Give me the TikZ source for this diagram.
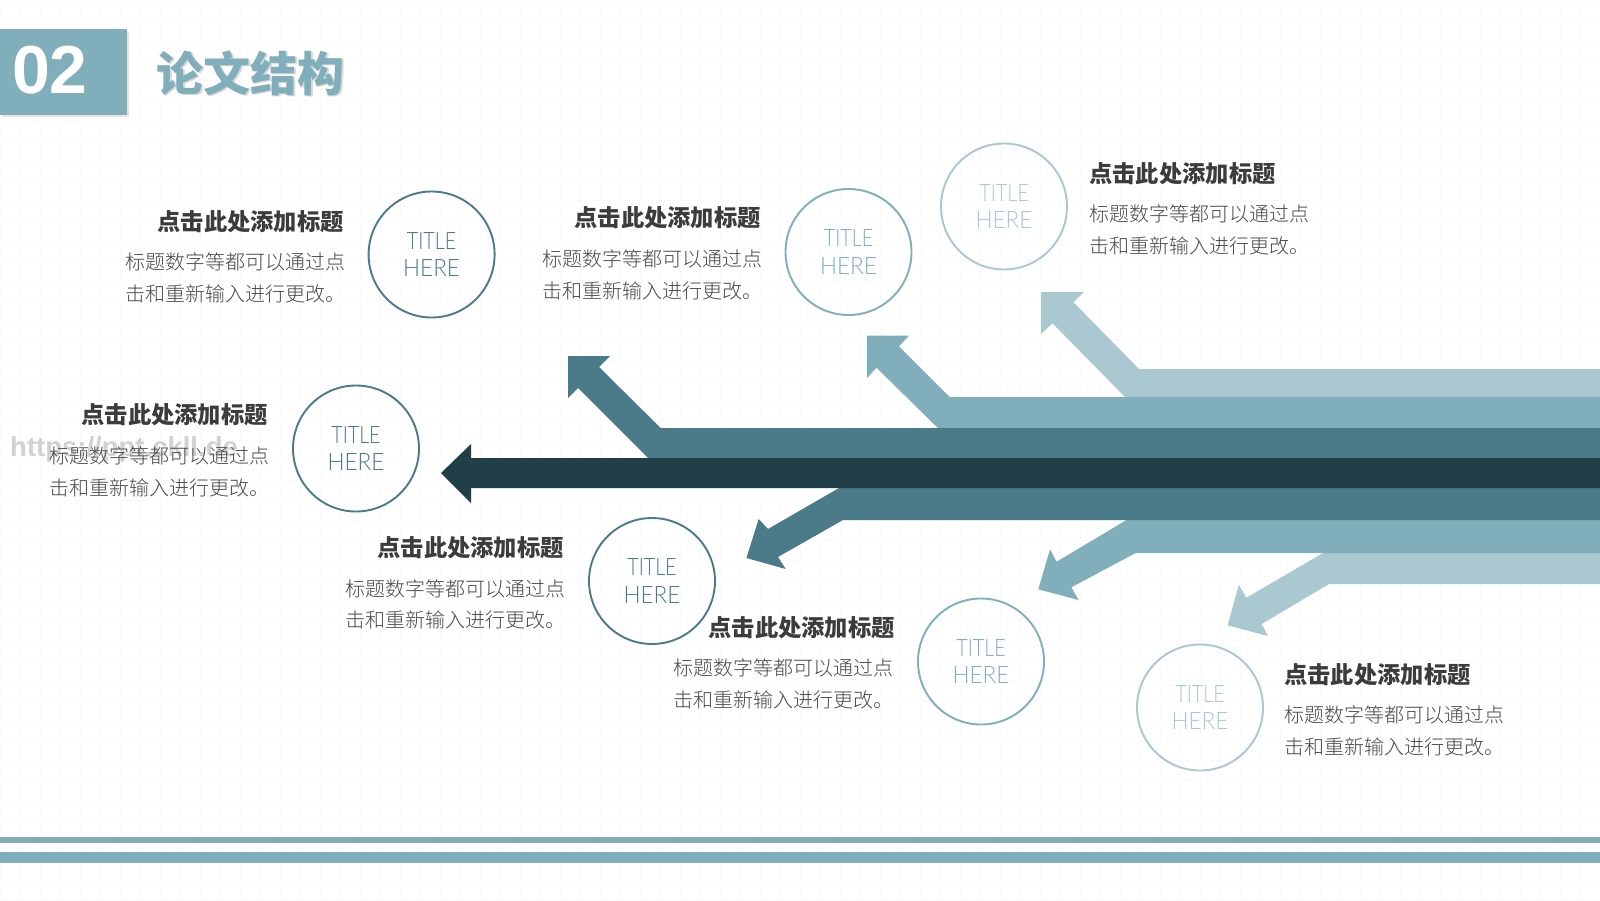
\documentclass[tikz,border=0pt]{standalone}
\usepackage{fontspec}
\setmainfont{Liberation Sans}
\newfontfamily\cjkhead{Noto Sans CJK SC}
\newfontfamily\cjkbody{Noto Sans CJK SC Light}
\newfontfamily\ringfont[FakeStretch=0.82]{Lato Light}
\newfontfamily\ringwide[FakeStretch=0.94]{Lato Light}
\usetikzlibrary{shadows}
\definecolor{pale}{HTML}{A9C8CF}
\definecolor{mid}{HTML}{80AEBB}
\definecolor{deep}{HTML}{4B7A89}
\definecolor{ink}{HTML}{203F46}
\definecolor{bodygray}{HTML}{484848}
\definecolor{headgray}{HTML}{3C3C3C}
\definecolor{gridgray}{HTML}{F9FAFB}
\newcommand{\ringtext}{TITLE\\{\ringwide HERE}}
\tikzset{
  ring/.style={circle,draw=#1,text=#1,line width=1.9pt,minimum size=126pt,inner sep=0pt,align=center,
    font=\ringfont\fontsize{24}{27.5}\selectfont},
  headr/.style={anchor=east,inner sep=0pt,text=headgray,font=\cjkhead\bfseries\fontsize{23.3}{28}\selectfont},
  headl/.style={anchor=west,inner sep=0pt,text=headgray,font=\cjkhead\bfseries\fontsize{23.3}{28}\selectfont},
  bodytext/.style={anchor=west,inner sep=0pt,align=left,text=bodygray,font=\cjkbody\fontsize{20}{31.6}\selectfont},
}
\begin{document}
\begin{tikzpicture}[x=1pt,y=-1pt]
  \useasboundingbox (0,0) rectangle (1600,900);
  \fill[white] (0,0) rectangle (1600,900);
  \draw[gridgray,line width=0.6pt] (0,0) grid[step=20pt] (1600,900);

  \fill[mid,drop shadow={opacity=0.2,shadow xshift=1.5pt,shadow yshift=-1.5pt}] (0,29) rectangle (127,115);
  \node[text=white,font=\bfseries\fontsize{68}{72}\selectfont] (num) at (50,70) {02};
  \node[text=black,opacity=0.15,font=\cjkhead\bfseries\fontsize{47}{50}\selectfont] (titleshade) at (252,74.5) {论文结构};
  \node[text=mid,font=\cjkhead\bfseries\fontsize{47}{50}\selectfont] (title) at (250.5,73) {论文结构};

  \node[text=black!18,font=\bfseries\fontsize{27.5}{30}\selectfont,anchor=west,inner sep=0pt] (mark) at (10,449) {https://ppt.ckll.de};

  \fill[pale] (1600,369) -- (1139,369) -- (1073.5,302.3) -- (1084,292) -- (1041,292) -- (1041,334) -- (1052.5,323.3) -- (1125,397) -- (1600,397) -- cycle;
  \fill[mid] (1600,397) -- (949.5,397) -- (899,346.3) -- (909,335.7) -- (866.8,335.7) -- (866.8,378.3) -- (876.5,367.7) -- (937.8,428) -- (1600,428) -- cycle;
  \fill[deep] (1600,428) -- (660.7,428) -- (599,367) -- (610,356) -- (568,356) -- (568,398) -- (578,388) -- (648,458) -- (1600,458) -- cycle;
  \fill[pale] (1600,553) -- (1323,553) -- (1246.4,597.7) -- (1238.8,585) -- (1227.6,625.3) -- (1267.9,636) -- (1261.7,624) -- (1329,584) -- (1600,584) -- cycle;
  \fill[mid] (1600,520) -- (1126.5,520) -- (1056.6,561.7) -- (1050,549.3) -- (1038.3,589.3) -- (1078.6,600) -- (1071.4,587.3) -- (1135.7,553) -- (1600,553) -- cycle;
  \fill[deep] (1600,488) -- (839,488) -- (768,529) -- (758.7,519) -- (746.4,558) -- (785.7,569) -- (778,557) -- (843,520) -- (1600,520) -- cycle;
  \fill[ink] (1600,458) -- (471,458) -- (471,444) -- (441,473) -- (471,503) -- (471,488) -- (1600,488) -- cycle;

  \node[ring=deep] (c1) at (431.6,254.5) {\ringtext};
  \node[ring=mid] (c2) at (848.5,252) {\ringtext};
  \node[ring=pale] (c3) at (1004,206.5) {\ringtext};
  \node[ring=deep] (c4) at (356,448.5) {\ringtext};
  \node[ring=deep] (c5) at (652,581) {\ringtext};
  \node[ring=mid] (c6) at (981,661.5) {\ringtext};
  \node[ring=pale] (c7) at (1200,707.5) {\ringtext};

  \node[headr] (h1) at (344,221.4) {点击此处添加标题};
  \node[headr] (h2) at (761,218) {点击此处添加标题};
  \node[headl] (h3) at (1089,173.5) {点击此处添加标题};
  \node[headr] (h4) at (268,415) {点击此处添加标题};
  \node[headr] (h5) at (564,548) {点击此处添加标题};
  \node[headr] (h6) at (895,627.5) {点击此处添加标题};
  \node[headl] (h7) at (1284,674.5) {点击此处添加标题};

  \node[bodytext] (b1) at (125.5,278) {标题数字等都可以通过点\\击和重新输入进行更改。};
  \node[bodytext] (b2) at (542,275) {标题数字等都可以通过点\\击和重新输入进行更改。};
  \node[bodytext] (b3) at (1089,230) {标题数字等都可以通过点\\击和重新输入进行更改。};
  \node[bodytext] (b4) at (49,472) {标题数字等都可以通过点\\击和重新输入进行更改。};
  \node[bodytext] (b5) at (345,604.5) {标题数字等都可以通过点\\击和重新输入进行更改。};
  \node[bodytext] (b6) at (673.5,684) {标题数字等都可以通过点\\击和重新输入进行更改。};
  \node[bodytext] (b7) at (1284,731) {标题数字等都可以通过点\\击和重新输入进行更改。};

  \fill[mid!95!gray] (0,836.7) rectangle (1600,843);
  \fill[mid] (0,852) rectangle (1600,863);
\end{tikzpicture}
\end{document}
